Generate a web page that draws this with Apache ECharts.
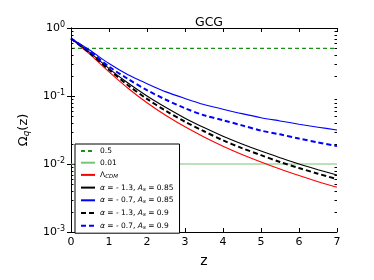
<!DOCTYPE html>
<html>
<head>
<meta charset="utf-8">
<script src="https://cdn.jsdelivr.net/npm/echarts@6/dist/echarts.min.js"></script>
<style>
html,body{margin:0;padding:0;background:#fff;}
#c{width:374px;height:280px;}
</style>
</head>
<body>
<div id="c"></div>
<script>
// ---- data ----
const zValues = [0, 0.5, 1, 1.5, 2, 2.5, 3, 3.5, 4, 4.5, 5, 5.5, 6, 6.5, 7];
const lcdm      = [0.7, 0.409, 0.226, 0.130, 0.0795, 0.0516, 0.0352, 0.025, 0.0183, 0.0138, 0.0107, 0.00842, 0.00676, 0.0055, 0.00454];
const a13As085  = [0.7, 0.434, 0.253, 0.155, 0.100, 0.0676, 0.0472, 0.0343, 0.0256, 0.0197, 0.0155, 0.0124, 0.0100, 0.00825, 0.0069];
const a07As085  = [0.7, 0.47, 0.30, 0.205, 0.152, 0.115, 0.092, 0.075, 0.064, 0.055, 0.048, 0.043, 0.0385, 0.0348, 0.0316];
const a13As09   = [0.7, 0.425, 0.244, 0.144, 0.0906, 0.0604, 0.0419, 0.0303, 0.0223, 0.0171, 0.0135, 0.0107, 0.00872, 0.0072, 0.0060];
const a07As09   = [0.7, 0.45, 0.27, 0.178, 0.122, 0.088, 0.066, 0.052, 0.044, 0.037, 0.031, 0.0273, 0.0237, 0.0208, 0.0184];
const refLevelHigh = 0.5;
const refLevelLow = 0.01;
const xRange = [0, 7];
const legendNames = ['0.5', '0.01', 'LCDM', 'a13_085', 'a07_085', 'a13_09', 'a07_09'];
const legendLabels = {
  '0.5': '0.5',
  '0.01': '0.01',
  'LCDM': '{r|Λ}{sub|CDM}',
  'a13_085': '{i|α}{r| = - 1.3, }{i|A}{sub|s}{r| = 0.85}',
  'a07_085': '{i|α}{r| = - 0.7, }{i|A}{sub|s}{r| = 0.85}',
  'a13_09': '{i|α}{r| = - 1.3, }{i|A}{sub|s}{r| = 0.9}',
  'a07_09': '{i|α}{r| = - 0.7, }{i|A}{sub|s}{r| = 0.9}'
};

const pairs = arr => zValues.map((z, i) => [z, arr[i]]);
const FONT = 'DejaVu Sans';

const chart = echarts.init(document.getElementById('c'), null, {renderer: 'canvas'});

const axisLineStyle = {color: '#000', width: 1};
const yLabelRich = {
  b: {fontFamily: FONT, fontSize: 11, color: '#000'},
  s: {fontFamily: FONT, fontSize: 8, color: '#000', padding: [0, 0, 7, 0]}
};

const option = {
  animation: false,
  backgroundColor: '#fff',
  title: {
    text: 'GCG', left: 204, top: 11, textAlign: 'center',
    textStyle: {fontFamily: FONT, fontSize: 12.5, fontWeight: 'normal', color: '#000'}
  },
  grid: {left: 71, right: 37, top: 28, bottom: 48, containLabel: false},
  legend: {
    data: legendNames,
    orient: 'vertical',
    left: 75, top: 144,
    padding: [3, 6, 3, 5],
    itemWidth: 14, itemHeight: 8, itemGap: 3.7,
    backgroundColor: '#fff', borderColor: '#000', borderWidth: 1, borderRadius: 0,
    itemStyle: {opacity: 0, borderWidth: 0},
    lineStyle: {inactiveWidth: 0},
    formatter: n => legendLabels[n],
    textStyle: {
      fontFamily: FONT, fontSize: 7.5, color: '#000', lineHeight: 8,
      rich: {
        r: {fontFamily: FONT, fontSize: 7.5, color: '#000', lineHeight: 8},
        i: {fontFamily: FONT, fontSize: 7.5, fontStyle: 'italic', color: '#000', lineHeight: 8},
        sub: {fontFamily: FONT, fontSize: 5.5, fontStyle: 'italic', color: '#000', lineHeight: 8, padding: [3, 0, 0, 0]}
      }
    }
  },
  xAxis: [{
    type: 'value', min: xRange[0], max: xRange[1], interval: 1,
    name: 'z', nameLocation: 'middle', nameGap: 22,
    nameTextStyle: {fontFamily: FONT, fontSize: 14, color: '#000'},
    axisLine: {show: true, lineStyle: axisLineStyle},
    axisTick: {show: true, inside: true, length: 4, lineStyle: axisLineStyle},
    axisLabel: {fontFamily: FONT, fontSize: 11, color: '#000', margin: 5},
    splitLine: {show: false}
  }, {
    type: 'value', min: xRange[0], max: xRange[1], interval: 1, position: 'top',
    axisLine: {show: true, lineStyle: axisLineStyle},
    axisTick: {show: true, inside: true, length: 4, lineStyle: axisLineStyle},
    axisLabel: {show: false}, splitLine: {show: false}
  }],
  yAxis: [{
    type: 'log', logBase: 10, min: 0.001, max: 1, interval: 1,
    name: '{o|Ω}{sub|q}{o|(z)}', nameLocation: 'middle', nameGap: 40, nameRotate: 90,
    nameTextStyle: {
      rich: {
        o: {fontFamily: FONT, fontSize: 13, color: '#000'},
        sub: {fontFamily: FONT, fontSize: 9, fontStyle: 'italic', color: '#000', padding: [5, 0, 0, 0]}
      }
    },
    axisLine: {show: true, lineStyle: axisLineStyle},
    axisTick: {show: true, inside: true, length: 4, lineStyle: axisLineStyle},
    axisLabel: {
      margin: 6,
      formatter: v => '{b|10}{s|' + Math.round(Math.log10(v)) + '}',
      rich: yLabelRich
    },
    splitLine: {show: false}
  }, {
    type: 'log', logBase: 10, min: 0.001, max: 1, interval: 1, position: 'right',
    axisLine: {show: true, lineStyle: axisLineStyle},
    axisTick: {show: true, inside: true, length: 4, lineStyle: axisLineStyle},
    axisLabel: {show: false}, splitLine: {show: false}
  }],
  series: [
    {name: '0.5', type: 'line', symbol: 'none', data: [[xRange[0], refLevelHigh], [xRange[1], refLevelHigh]],
     lineStyle: {color: '#1a8f1a', width: 1.2, type: [4, 3]}, itemStyle: {color: '#1a8f1a'}},
    {name: '0.01', type: 'line', symbol: 'none', data: [[xRange[0], refLevelLow], [xRange[1], refLevelLow]],
     lineStyle: {color: '#76c476', width: 1.2}, itemStyle: {color: '#76c476'}},
    {name: 'LCDM', type: 'line', symbol: 'none', smooth: 0.3, data: pairs(lcdm),
     lineStyle: {color: '#ff0000', width: 1.1}, itemStyle: {color: '#ff0000'}},
    {name: 'a13_085', type: 'line', symbol: 'none', smooth: 0.3, data: pairs(a13As085),
     lineStyle: {color: '#000000', width: 1.1}, itemStyle: {color: '#000000'}},
    {name: 'a07_085', type: 'line', symbol: 'none', smooth: 0.3, data: pairs(a07As085),
     lineStyle: {color: '#0000ff', width: 1.1}, itemStyle: {color: '#0000ff'}},
    {name: 'a13_09', type: 'line', symbol: 'none', smooth: 0.3, data: pairs(a13As09),
     lineStyle: {color: '#000000', width: 2, type: [5, 3]}, itemStyle: {color: '#000000'}},
    {name: 'a07_09', type: 'line', symbol: 'none', smooth: 0.3, data: pairs(a07As09),
     lineStyle: {color: '#0000ff', width: 2, type: [5, 3]}, itemStyle: {color: '#0000ff'}}
  ]
};
chart.setOption(option);

// minor log ticks (2..9 x 10^k), positioned through the axis scale
const minor = [];
const gridRect = chart.getModel().getComponent('grid').coordinateSystem.getRect();
for (let k = -3; k < 0; k++) {
  for (let m = 2; m <= 9; m++) {
    const v = m * Math.pow(10, k);
    const py = Math.round(chart.convertToPixel({yAxisIndex: 0}, v)) + 0.5;
    minor.push({type: 'line', silent: true, z: 5,
      shape: {x1: gridRect.x, y1: py, x2: gridRect.x + 2.5, y2: py},
      style: {stroke: '#000', lineWidth: 1}});
    minor.push({type: 'line', silent: true, z: 5,
      shape: {x1: gridRect.x + gridRect.width - 2.5, y1: py, x2: gridRect.x + gridRect.width, y2: py},
      style: {stroke: '#000', lineWidth: 1}});
  }
}
chart.setOption({graphic: minor});
</script>
</body>
</html>
